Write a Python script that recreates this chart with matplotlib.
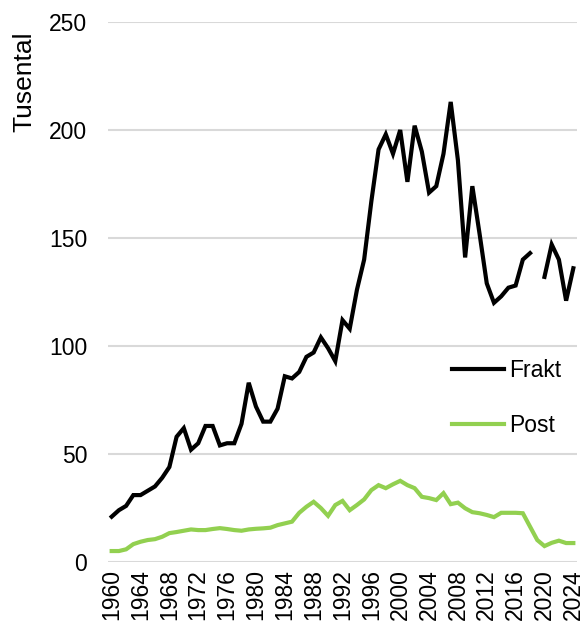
import numpy as np
import matplotlib
matplotlib.use("Agg")
import matplotlib.pyplot as plt

years = list(range(1960, 2025))
frakt = [21, 24, 26, 31, 31, 33, 35, 39, 44, 58, 62, 52, 55, 63, 63, 54,
         55, 55, 64, 83, 72, 65, 65, 71, 86, 85, 88, 95, 97, 104, 99, 93,
         112, 108, 126, 140, 167, 191, 198, 189, 200, 176, 202, 190, 171, 174,
         189, 213, 186, 141, 174, 152, 129, 120, 123, 127, 128, 140, 143, np.nan,
         132, 147, 140, 121, 136]
post = [5.1, 5.1, 5.9, 8.3, 9.4, 10.2, 10.6, 11.7, 13.4, 13.9, 14.5, 15.1, 14.8, 14.8, 15.3, 15.7,
        15.3, 14.8, 14.5, 15.1, 15.4, 15.6, 15.9, 17.1, 17.9, 18.7, 22.8, 25.6, 27.9, 25.0, 21.4, 26.4,
        28.3, 24.0, 26.4, 29.0, 33.3, 35.6, 34.2, 36.0, 37.6, 35.6, 34.2, 30.2, 29.6, 28.7,
        31.9, 26.8, 27.5, 24.9, 23.1, 22.6, 21.8, 20.8, 22.8, 22.8, 22.8, 22.6, 16.4, 10.2,
        7.4, 8.9, 9.9, 8.8, 8.8]
series_names = ["Frakt", "Post"]
y_ticks = [0, 50, 100, 150, 200, 250]
x_ticks = list(range(1960, 2025, 4))

plt.rcParams['font.family'] = ['Liberation Sans', 'DejaVu Sans']

fig = plt.figure(figsize=(5.81, 6.28), dpi=100)
ax = fig.add_axes([0.186, 0.105, 0.807, 0.86])

ax.plot(years, frakt, color="#000000", lw=3.0, label=series_names[0], solid_joinstyle='miter')
ax.plot(years, post, color="#92D050", lw=3.0, label=series_names[1], solid_joinstyle='miter')

ax.set_xlim(1959.5, 2024.5)
ax.set_ylim(0, 250)
ax.set_yticks(y_ticks)
ax.set_xticks(x_ticks)
ax.set_xticklabels([str(x) for x in x_ticks], rotation=90)
ax.tick_params(axis='both', length=0, labelsize=16.5, colors='#000000')
ax.tick_params(axis='y', pad=15)
ax.tick_params(axis='x', pad=5)
ax.grid(axis='y', color='#D9D9D9', lw=1.5)
ax.set_axisbelow(True)
for s in ax.spines.values():
    s.set_visible(False)

fig.text(24/581, 1 - 31/628, "Tusental", rotation=90, ha='center', va='top', fontsize=19)

leg = ax.legend(loc='upper left', bbox_to_anchor=(0.733, 0.376), frameon=False,
                fontsize=16.5, handlelength=2.3, handletextpad=0.22,
                labelspacing=1.38, borderaxespad=0, borderpad=0)

fig.savefig("out.png", dpi=100)
